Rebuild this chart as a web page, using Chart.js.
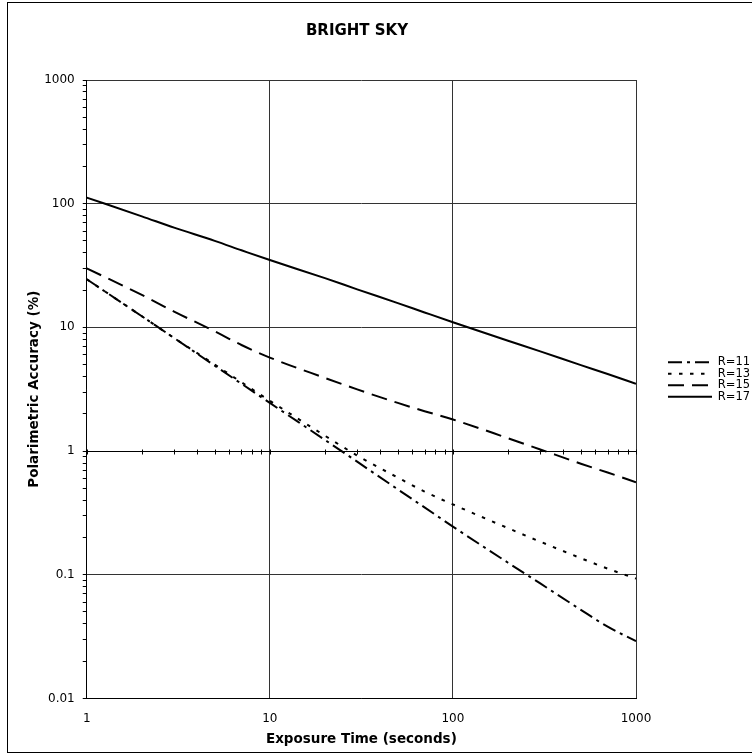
<!doctype html>
<html>

<head>
    <title>Bright Sky</title>
    <script src="https://cdn.jsdelivr.net/npm/chart.js"></script>
    <style>
        body { margin: 0; overflow: hidden; background: #fff; }
        #frame { position: absolute; left: 7px; top: 2px; width: 770px; height: 749px; border: 1px solid #000; overflow: hidden; }
    </style>
</head>

<body>

    <div id="frame">
        <canvas id="grafico" width="760" height="749"></canvas>
    </div>

    <script>
        // exposure times (s)
        var tempos = [1, 2, 3, 5, 7, 10, 20, 30, 50, 70, 100, 200, 300, 500, 700, 1000];

        // polarimetric accuracy (%) per magnitude
        var r11 = [24.5, 12.3, 8.2, 4.9, 3.5, 2.45, 1.23, 0.82, 0.49, 0.35, 0.245, 0.125, 0.085, 0.052, 0.038, 0.029];
        var r13 = [24.5, 12.3, 8.2, 5.0, 3.6, 2.55, 1.33, 0.92, 0.61, 0.47, 0.37, 0.238, 0.185, 0.136, 0.112, 0.093];
        var r15 = [30, 18.3, 13.4, 9.3, 7.2, 5.7, 3.9, 3.15, 2.45, 2.1, 1.8, 1.27, 1.03, 0.79, 0.67, 0.56];
        var r17 = [112, 79, 64, 50, 42, 35, 25, 20.3, 15.7, 13.2, 11.0, 7.8, 6.4, 4.95, 4.2, 3.5];

        var seriesNomes = ['R=11', 'R=13', 'R=15', 'R=17'];

        // decade labels
        var xDecadas = [1, 10, 100, 1000];
        var xRotulos = ['1', '10', '100', '1000'];
        var yDecadas = [0.01, 0.1, 1, 10, 100, 1000];
        var yRotulos = ['0.01', '0.1', '1', '10', '100', '1000'];

        function ticksLog(decadas) {
            var v = [];
            for (var i = 0; i < decadas.length - 1; i++) {
                for (var m = 1; m <= 9; m++) {
                    v.push(m == 1 ? decadas[i] : parseFloat((m * decadas[i]).toPrecision(6)));
                }
            }
            v.push(decadas[decadas.length - 1]);
            return v.map(function (x) { return { value: x }; });
        }

        function pontos(valores) {
            return tempos.map(function (t, i) { return { x: t, y: valores[i] }; });
        }

        Chart.defaults.font.family = "'DejaVu Sans', Verdana, sans-serif";
        Chart.defaults.color = '#000';

        // small tick marks along the y=1 crossing line
        var eixoCruzado = {
            id: 'eixoCruzado',
            beforeDatasetsDraw: function (chart) {
                var ctx = chart.ctx;
                var x = chart.scales.x, y = chart.scales.y;
                var y1 = Math.round(y.getPixelForValue(1)) + 0.5;
                ctx.save();
                ctx.strokeStyle = '#000';
                ctx.lineWidth = 1;
                ctx.beginPath();
                x.ticks.forEach(function (t) {
                    var px = Math.round(x.getPixelForValue(t.value)) + 0.5;
                    ctx.moveTo(px, y1 - 2);
                    ctx.lineTo(px, y1 + 3);
                });
                ctx.stroke();
                ctx.restore();
            }
        };

        // push the legend a bit away from the plot and let it run to the canvas edge
        var legendaAfastada = {
            id: 'legendaAfastada',
            afterLayout: function (chart) {
                var lg = chart.legend;
                lg.left += 32;
                lg.right = chart.width;
                lg.width = lg.right - lg.left;
                lg.top += 4;
                lg.bottom += 4;
            }
        };

        function corGrade(decadas, preta) {
            return function (c) {
                var v = c.tick.value;
                if (v === preta) return '#000';
                return decadas.indexOf(v) >= 0 ? '#333' : 'rgba(0,0,0,0)';
            };
        }

        var tracos = [[14, 5, 3, 5], [3.5, 7.5], [16, 8], []];

        var grafico = new Chart(document.getElementById('grafico').getContext('2d'), {
            type: 'line',
            data: {
                datasets: [r11, r13, r15, r17].map(function (serie, i) {
                    return {
                        label: seriesNomes[i],
                        data: pontos(serie),
                        borderColor: '#000',
                        backgroundColor: '#000',
                        borderWidth: 2,
                        borderDash: tracos[i],
                        pointRadius: 0,
                        fill: false,
                        cubicInterpolationMode: 'monotone'
                    };
                })
            },
            options: {
                responsive: false,
                animation: false,
                layout: { padding: { left: 0, right: 62, top: 0, bottom: 4 } },
                scales: {
                    x: {
                        type: 'logarithmic',
                        min: 1,
                        max: 1000,
                        afterBuildTicks: function (axis) { axis.ticks = ticksLog(xDecadas); },
                        ticks: {
                            autoSkip: false,
                            maxRotation: 0,
                            padding: 13,
                            font: { size: 12 },
                            callback: function (v) {
                                var i = xDecadas.indexOf(v);
                                return i >= 0 ? xRotulos[i] : '';
                            }
                        },
                        grid: { color: corGrade(xDecadas, null), drawTicks: false },
                        border: { display: true, color: '#000', width: 1 },
                        title: {
                            display: true,
                            text: 'Exposure Time (seconds)',
                            font: { size: 13.5, weight: 'bold' },
                            padding: { top: -7, bottom: 0 }
                        }
                    },
                    y: {
                        type: 'logarithmic',
                        min: 0.01,
                        max: 1000,
                        afterBuildTicks: function (axis) { axis.ticks = ticksLog(yDecadas); },
                        ticks: {
                            autoSkip: false,
                            padding: 8,
                            font: { size: 12 },
                            callback: function (v) {
                                var i = yDecadas.indexOf(v);
                                return i >= 0 ? yRotulos[i] : '';
                            }
                        },
                        grid: { color: corGrade(yDecadas, 1), tickColor: '#000', tickLength: 4 },
                        border: { display: true, color: '#000', width: 1 },
                        title: {
                            display: true,
                            text: 'Polarimetric Accuracy (%)',
                            font: { size: 13.5, weight: 'bold' },
                            padding: { top: 18, bottom: -6 }
                        }
                    }
                },
                plugins: {
                    title: {
                        display: true,
                        text: 'BRIGHT SKY',
                        font: { size: 15, weight: 'bold' },
                        padding: { top: 19, bottom: 40 }
                    },
                    legend: {
                        position: 'right',
                        maxWidth: 70,
                        labels: {
                            usePointStyle: true,
                            pointStyleWidth: 44,
                            padding: 0,
                            font: { size: 11.5 },
                            generateLabels: function (chart) {
                                return chart.data.datasets.map(function (ds, i) {
                                    return {
                                        text: ds.label,
                                        fillStyle: ds.borderColor,
                                        strokeStyle: ds.borderColor,
                                        lineWidth: ds.borderWidth,
                                        lineDash: ds.borderDash,
                                        lineCap: 'butt',
                                        pointStyle: 'line',
                                        fontColor: '#000',
                                        hidden: false,
                                        datasetIndex: i
                                    };
                                });
                            }
                        }
                    },
                    tooltip: { enabled: false }
                }
            },
            plugins: [eixoCruzado, legendaAfastada]
        });
    </script>
</body>

</html>
